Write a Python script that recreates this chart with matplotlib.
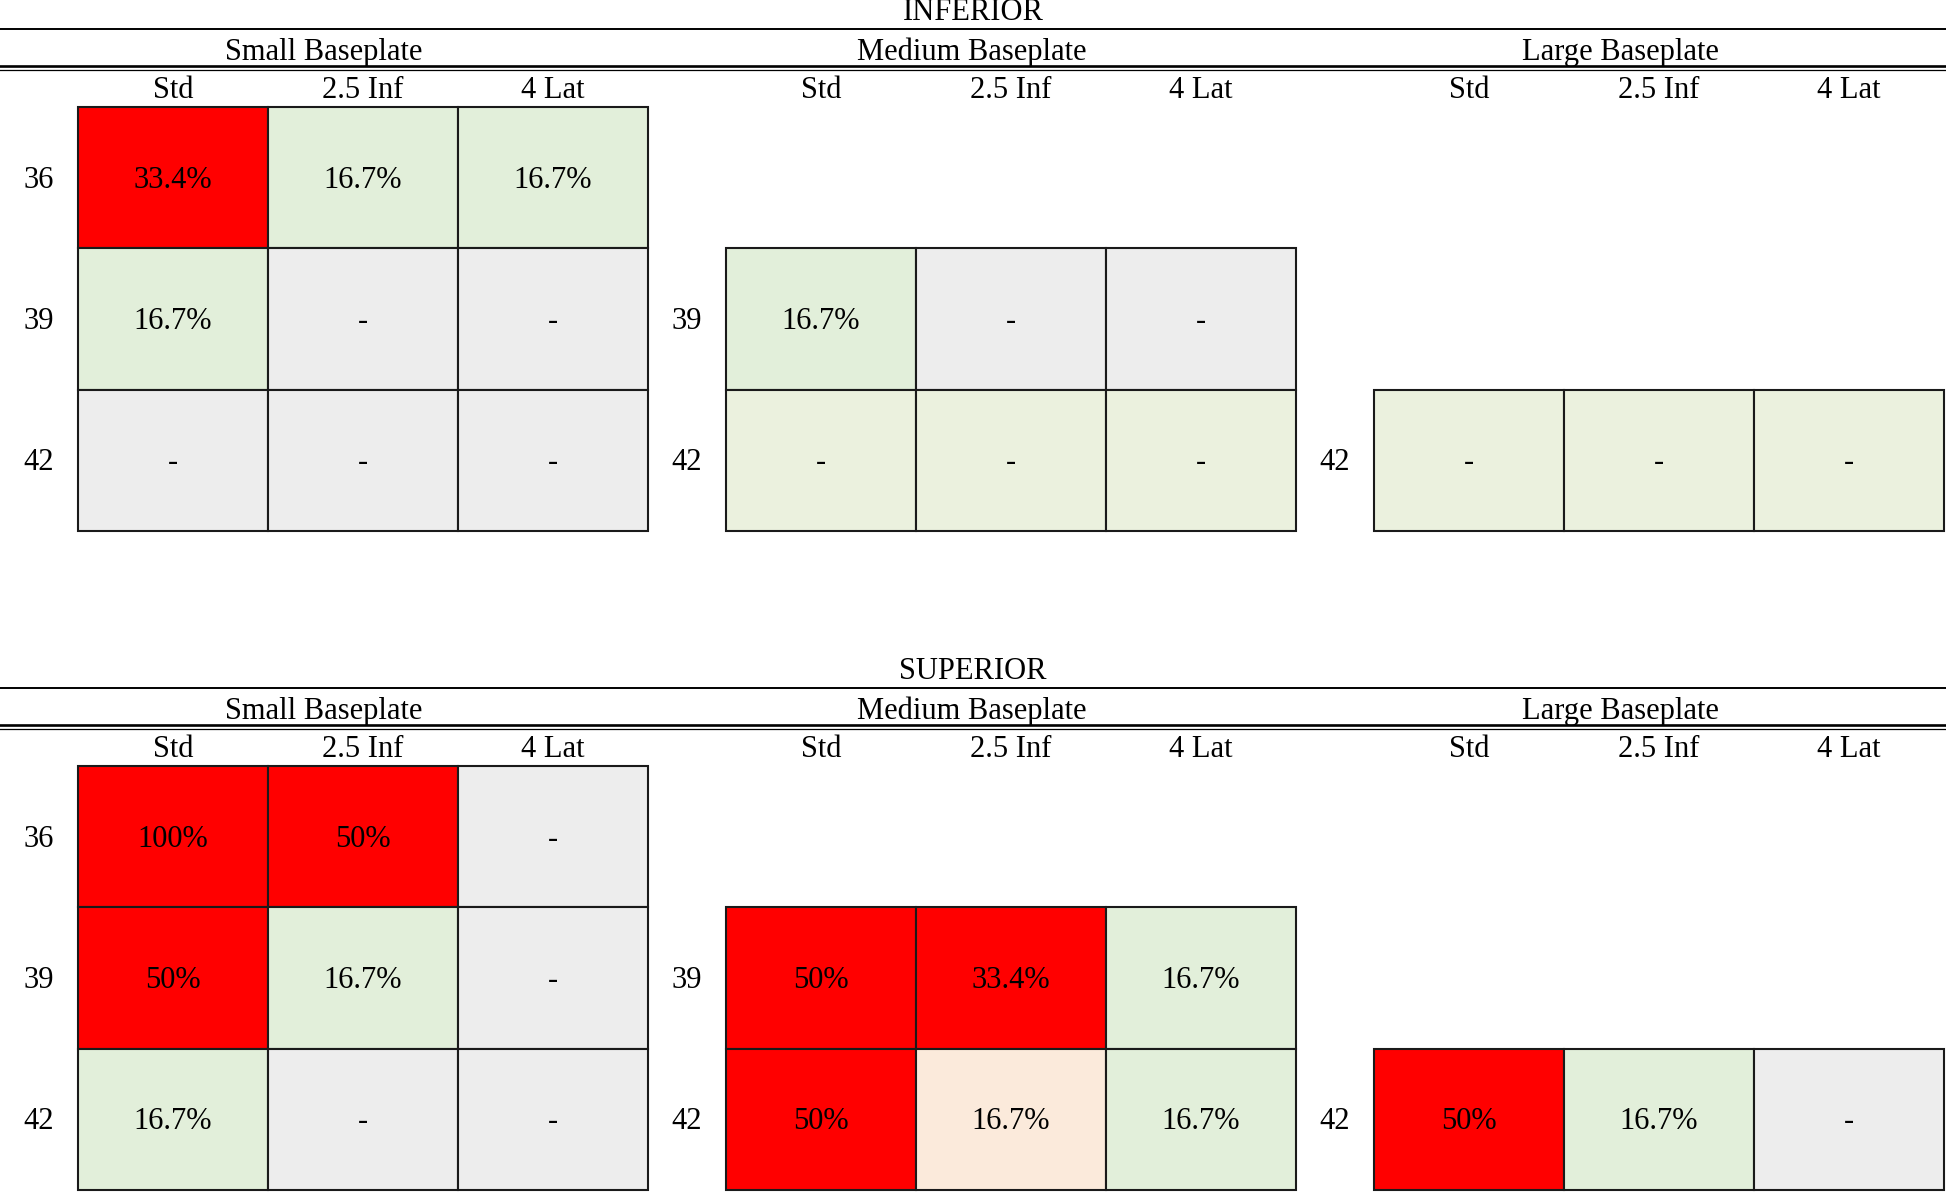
import matplotlib
matplotlib.use("Agg")
import matplotlib.pyplot as plt
from matplotlib.patches import Rectangle

plt.rcParams['font.family'] = ['Liberation Serif', 'DejaVu Serif']

# ---- data ----
sections = ['INFERIOR', 'SUPERIOR']
baseplates = ['Small Baseplate', 'Medium Baseplate', 'Large Baseplate']
columns = ['Std', '2.5 Inf', '4 Lat']
rows = ['36', '39', '42']

# None = row not available for this baseplate
inferior_small = [['33.4%', '16.7%', '16.7%'], ['16.7%', '-', '-'], ['-', '-', '-']]
inferior_medium = [None, ['16.7%', '-', '-'], ['-', '-', '-']]
inferior_large = [None, None, ['-', '-', '-']]
superior_small = [['100%', '50%', '-'], ['50%', '16.7%', '-'], ['16.7%', '-', '-']]
superior_medium = [None, ['50%', '33.4%', '16.7%'], ['50%', '16.7%', '16.7%']]
superior_large = [None, None, ['50%', '16.7%', '-']]

# fill codes: r red, g green, n grey, p pale green, o peach
inferior_small_fill = [['r', 'g', 'g'], ['g', 'n', 'n'], ['n', 'n', 'n']]
inferior_medium_fill = [None, ['g', 'n', 'n'], ['p', 'p', 'p']]
inferior_large_fill = [None, None, ['p', 'p', 'p']]
superior_small_fill = [['r', 'r', 'n'], ['r', 'g', 'n'], ['g', 'n', 'n']]
superior_medium_fill = [None, ['r', 'r', 'g'], ['r', 'o', 'g']]
superior_large_fill = [None, None, ['r', 'g', 'n']]

fill_colors = {'r': '#FF0000', 'g': '#E2EFDA', 'n': '#EDEDED', 'p': '#EBF1DE', 'o': '#FBEADB'}

tables = [[inferior_small, inferior_medium, inferior_large],
          [superior_small, superior_medium, superior_large]]
fills = [[inferior_small_fill, inferior_medium_fill, inferior_large_fill],
         [superior_small_fill, superior_medium_fill, superior_large_fill]]

# ---- layout (pixels) ----
W, H = 1946, 1192
FS = 22
sec_top = [0, 659]
block_w = 648
label_w = 78
grid_w = 570
grid_top = 107
grid_h = 424
row_px = grid_h / 3
base_off = 10 / row_px  # baseline offset so digits sit centred in a cell

fig = plt.figure(figsize=(W / 100, H / 100), dpi=100)
bg = fig.add_axes([0, 0, 1, 1])
bg.set_xlim(0, W)
bg.set_ylim(H, 0)
bg.axis('off')

for s, name in enumerate(sections):
    t = sec_top[s]
    bg.text(W / 2, t + 20, name, ha='center', va='baseline', fontsize=FS)
    bg.plot([0, W], [t + 29, t + 29], color='black', lw=1.4)
    bg.plot([0, W], [t + 66, t + 66], color='black', lw=1.9)
    bg.plot([0, W], [t + 70, t + 70], color='black', lw=0.9)

    for p, bp in enumerate(baseplates):
        bg.text(p * block_w + block_w / 2, t + 60, bp, ha='center', va='baseline', fontsize=FS)

        left = p * block_w + label_w
        top = t + grid_top
        ax = fig.add_axes([left / W, 1 - (top + grid_h) / H, grid_w / W, grid_h / H])
        ax.set_xlim(0, 3)
        ax.set_ylim(3, 0)
        ax.axis('off')

        for j, c in enumerate(columns):
            ax.text(j + 0.5, -9 / row_px, c, ha='center', va='baseline', fontsize=FS, clip_on=False)

        data = tables[s][p]
        fill = fills[s][p]
        for i, r in enumerate(rows):
            if data[i] is None:
                continue
            ax.text(-label_w / 2 / 190, i + 0.5 + base_off, r, ha='center', va='baseline',
                    fontsize=FS, clip_on=False)
            for j in range(len(columns)):
                ax.add_patch(Rectangle((j, i), 1, 1, facecolor=fill_colors[fill[i][j]],
                                       edgecolor='#1a1a1a', lw=1.5, clip_on=False))
                ax.text(j + 0.5, i + 0.5 + base_off, data[i][j], ha='center', va='baseline',
                        fontsize=FS)

fig.savefig('out.png', dpi=100)
